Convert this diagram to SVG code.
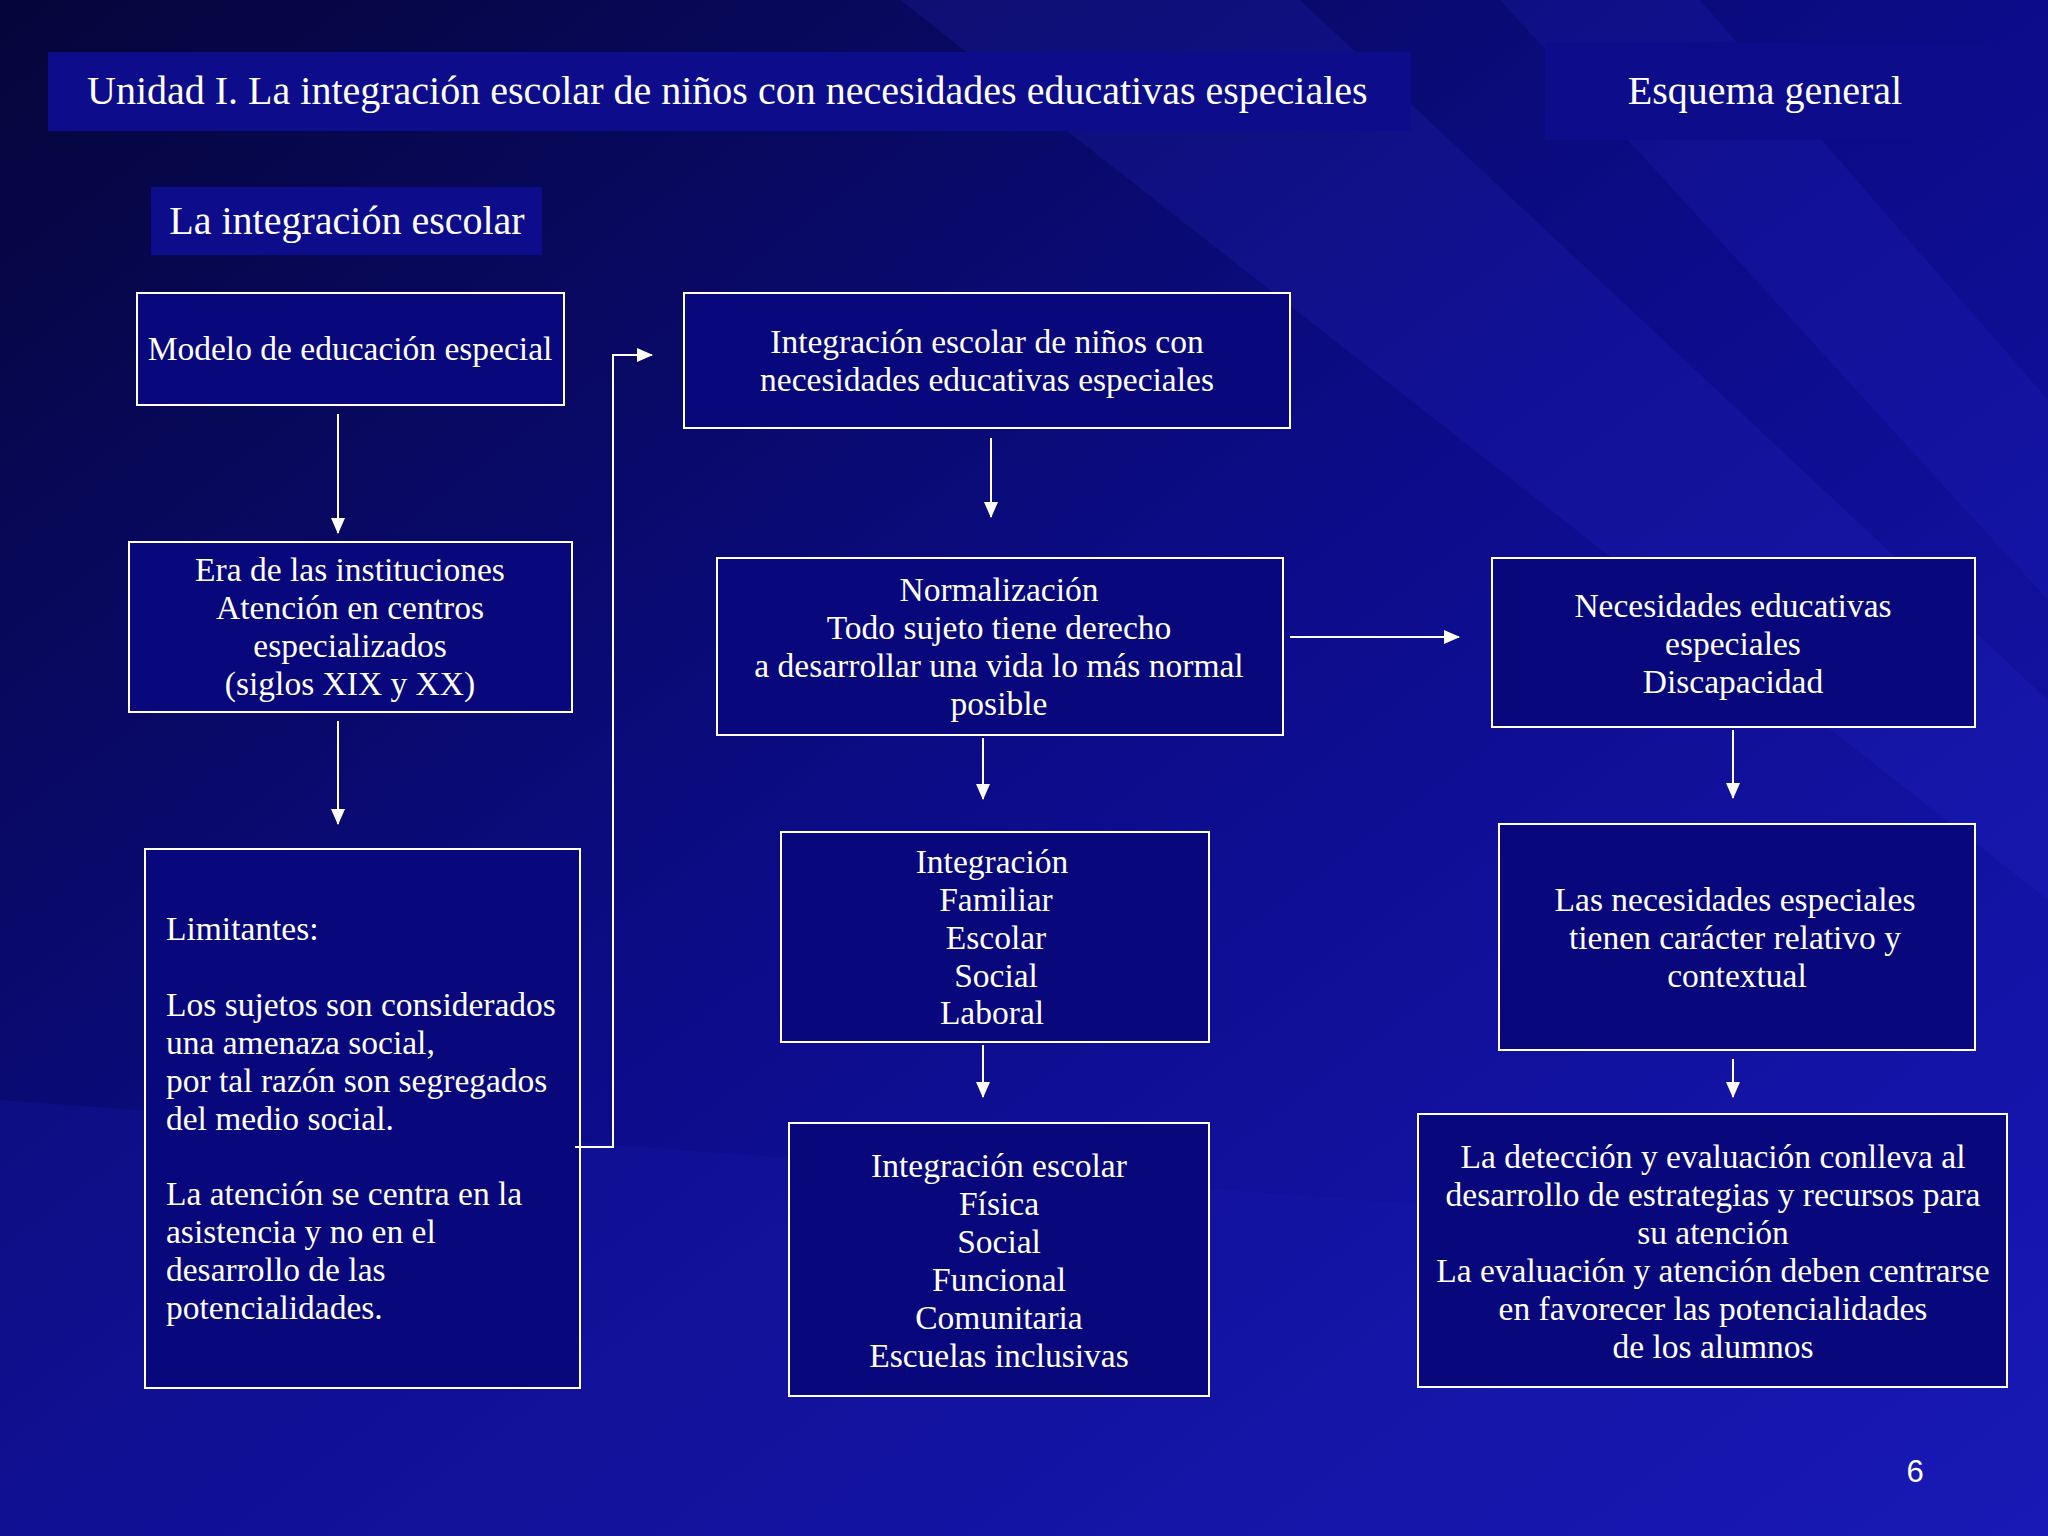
<svg xmlns="http://www.w3.org/2000/svg" width="2048" height="1536" viewBox="0 0 2048 1536">
<defs>
<linearGradient id="bg" x1="0" y1="0" x2="1" y2="1">
<stop offset="0" stop-color="#05053a"/>
<stop offset="0.5" stop-color="#0c0c8a"/>
<stop offset="1" stop-color="#1818b8"/>
</linearGradient>
<marker id="ah" markerWidth="16" markerHeight="14" refX="15" refY="7" orient="auto" markerUnits="userSpaceOnUse">
<path d="M0,0 L16,7 L0,14 Z" fill="#fff"/>
</marker>
<style>
.box{fill:#08087c;stroke:#fff;stroke-width:2}
.hdr{fill:#0d0d8c}
text{font-family:"Liberation Serif","Times New Roman",serif;fill:#fff;font-size:33.5px}
text.big{font-size:40px}
.c{text-anchor:middle}
.con{stroke:#fff;stroke-width:2;fill:none;marker-end:url(#ah)}
</style>
</defs>
<rect width="2048" height="1536" fill="url(#bg)"/>
<polygon points="900,0 1300,0 2048,700 2048,900" fill="#2a2ad0" opacity="0.18"/>
<polygon points="0,1100 2048,1250 2048,1536 0,1536" fill="#1a1ab0" opacity="0.25"/>
<polygon points="1500,0 1700,0 2048,400 2048,600" fill="#3030e0" opacity="0.15"/>

<g id="header"><rect class="hdr" x="48" y="52" width="1363" height="79"/><text class="big" x="87" y="104">Unidad I. La integración escolar de niños con necesidades educativas especiales</text></g>
<g id="esquema"><rect class="hdr" x="1545" y="42" width="440" height="98"/><text class="big c" x="1765" y="104">Esquema general</text></g>
<g id="titulo"><rect class="hdr" x="151" y="187" width="391" height="68"/><text class="big c" x="347" y="234">La integración escolar</text></g>

<g id="n1"><rect class="box" x="137" y="293" width="427" height="112"/><text class="c" x="350" y="360">Modelo de educación especial</text></g>
<g id="n2"><rect class="box" x="129" y="542" width="443" height="170"/><text class="c" x="350"><tspan x="350" y="581">Era de las instituciones</tspan><tspan x="350" y="619">Atención en centros</tspan><tspan x="350" y="657">especializados</tspan><tspan x="350" y="695">(siglos XIX y XX)</tspan></text></g>
<g id="n3"><rect class="box" x="145" y="849" width="435" height="539"/><text><tspan x="166" y="940">Limitantes:</tspan><tspan x="166" y="1016">Los sujetos son considerados</tspan><tspan x="166" y="1054">una amenaza social,</tspan><tspan x="166" y="1092">por tal razón son segregados</tspan><tspan x="166" y="1130">del medio social.</tspan><tspan x="166" y="1205">La atención se centra en la</tspan><tspan x="166" y="1243">asistencia y no en el</tspan><tspan x="166" y="1281">desarrollo de las</tspan><tspan x="166" y="1319">potencialidades.</tspan></text></g>
<g id="n4"><rect class="box" x="684" y="293" width="606" height="135"/><text class="c"><tspan x="987" y="353">Integración escolar de niños con</tspan><tspan x="987" y="391">necesidades educativas especiales</tspan></text></g>
<g id="n5"><rect class="box" x="717" y="558" width="566" height="177"/><text class="c"><tspan x="999" y="601">Normalización</tspan><tspan x="999" y="639">Todo sujeto tiene derecho</tspan><tspan x="999" y="677">a desarrollar una vida lo más normal</tspan><tspan x="999" y="715">posible</tspan></text></g>
<g id="n6"><rect class="box" x="781" y="832" width="428" height="210"/><text class="c"><tspan x="992" y="873">Integración</tspan><tspan x="996" y="911">Familiar</tspan><tspan x="996" y="949">Escolar</tspan><tspan x="996" y="987">Social</tspan><tspan x="992" y="1024">Laboral</tspan></text></g>
<g id="n7"><rect class="box" x="789" y="1123" width="420" height="273"/><text class="c"><tspan x="999" y="1177">Integración escolar</tspan><tspan x="999" y="1215">Física</tspan><tspan x="999" y="1253">Social</tspan><tspan x="999" y="1291">Funcional</tspan><tspan x="999" y="1329">Comunitaria</tspan><tspan x="999" y="1367">Escuelas inclusivas</tspan></text></g>
<g id="n8"><rect class="box" x="1492" y="558" width="483" height="169"/><text class="c"><tspan x="1733" y="617">Necesidades educativas</tspan><tspan x="1733" y="655">especiales</tspan><tspan x="1733" y="693">Discapacidad</tspan></text></g>
<g id="n9"><rect class="box" x="1499" y="824" width="476" height="226"/><text class="c"><tspan x="1735" y="911">Las necesidades especiales</tspan><tspan x="1735" y="949">tienen carácter relativo y</tspan><tspan x="1737" y="987">contextual</tspan></text></g>
<g id="n10"><rect class="box" x="1418" y="1114" width="589" height="273"/><text class="c"><tspan x="1713" y="1168">La detección y evaluación conlleva al</tspan><tspan x="1713" y="1206">desarrollo de estrategias y recursos para</tspan><tspan x="1713" y="1244">su atención</tspan><tspan x="1713" y="1282">La evaluación y atención deben centrarse</tspan><tspan x="1713" y="1320">en favorecer las potencialidades</tspan><tspan x="1713" y="1358">de los alumnos</tspan></text></g>

<g id="connectors">
<path class="con" d="M338,414 V533"/>
<path class="con" d="M338,721 V824"/>
<path class="con" d="M575,1147 H613 V355 H652"/>
<path class="con" d="M991,438 V517"/>
<path class="con" d="M983,738 V799"/>
<path class="con" d="M983,1045 V1097"/>
<path class="con" d="M1290,637 H1459"/>
<path class="con" d="M1733,730 V798"/>
<path class="con" d="M1733,1059 V1097"/>
</g>
<text x="1915" y="1482" style="font-family:'Liberation Sans',Arial,sans-serif;font-size:31px" class="c">6</text>
</svg>
